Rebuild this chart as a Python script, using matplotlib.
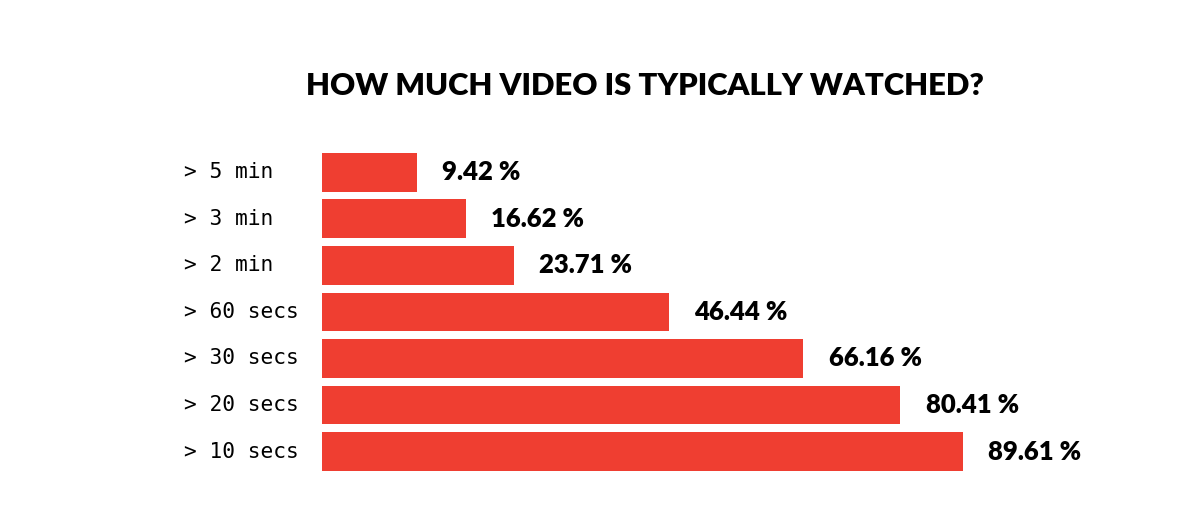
import matplotlib.pyplot as plt

# Data, top to bottom as in the chart
labels = ['> 5 min', '> 3 min', '> 2 min', '> 60 secs', '> 30 secs', '> 20 secs', '> 10 secs']
values = [9.42, 16.62, 23.71, 46.44, 66.16, 80.41, 89.61]

base = -4.5  # bars in the original start slightly below zero

fig = plt.figure(figsize=(11.94, 5.30), dpi=100)
ax = fig.add_axes([0.2697, 0.104, 0.599, 0.615])

ypos = list(range(len(values)))
ax.barh(ypos, [v - base for v in values], left=base, height=0.83, color='#EF3E31')
ax.set_xlim(base, 100.5)
ax.set_ylim(len(values) - 0.5, -0.5)
ax.axis('off')

for y, v, lab in zip(ypos, values, labels):
    ax.text(v + 3.7, y, f'{v:.2f} %', va='center', ha='left',
            fontsize=18.5, fontweight='heavy', family='Lato')
    ax.text(base - 20.3, y, lab, va='center', ha='left', fontsize=15.3,
            family='DejaVu Sans Mono')

fig.text(0.54, 0.838, 'HOW MUCH VIDEO IS TYPICALLY WATCHED?', ha='center', va='center',
         fontsize=22.3, fontweight='heavy', family='Lato')

fig.savefig('out.png', dpi=100, facecolor='white')
